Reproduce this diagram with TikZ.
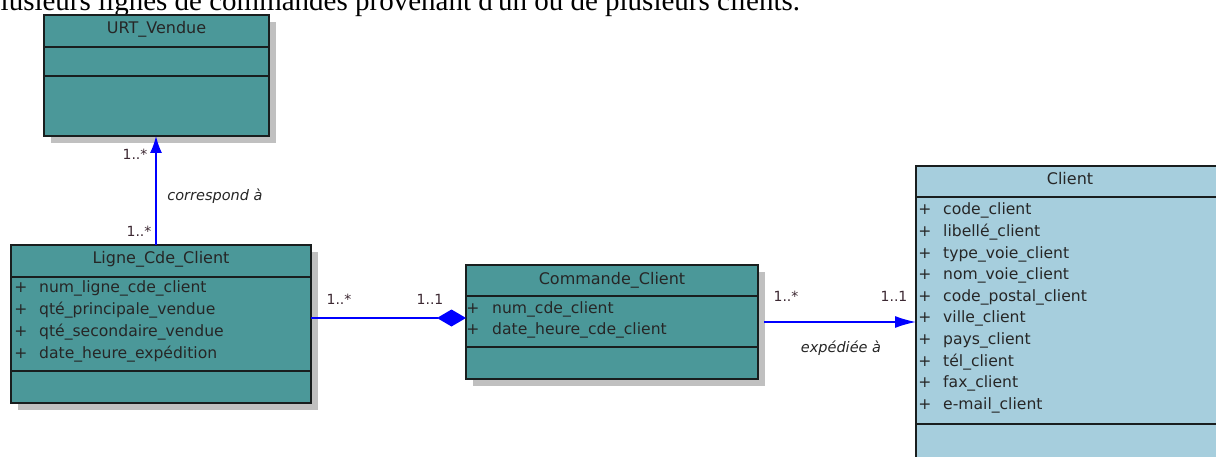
\documentclass[tikz,border=0pt]{standalone}
\usepackage{fontspec}
\setmainfont{DejaVu Sans}
\newfontfamily\timesf{Liberation Serif}
\usetikzlibrary{arrows.meta,calc,shadows}
\definecolor{teal1}{RGB}{75,152,153}
\definecolor{cli}{RGB}{166,206,221}
\definecolor{shad}{RGB}{192,192,192}
\definecolor{edge}{RGB}{25,30,30}
\definecolor{lnk}{RGB}{0,0,255}
\definecolor{mult}{RGB}{60,40,50}
\tikzset{
  box/.style={draw=edge, line width=1.4pt, anchor=north west, inner sep=0pt, outer sep=0pt,
    drop shadow={shadow xshift=7pt, shadow yshift=-7pt, fill=shad, opacity=1}},
  sep/.style={draw=edge, line width=1.4pt},
  ttl/.style={font=\fontsize{16}{18}\selectfont, text=black!85, inner sep=0pt},
  attr/.style={font=\fontsize{15.6}{18}\selectfont, anchor=mid west, inner sep=0pt, text=black!85},
  plus/.style={font=\fontsize{15.6}{18}\selectfont, anchor=mid, inner sep=0pt, text=black!85},
  mlt/.style={font=\fontsize{14}{16}\selectfont, inner sep=0pt, text=mult},
  role/.style={font=\fontsize{14.5}{16}\selectfont\itshape, inner sep=0pt, text=black!85},
  link/.style={draw=lnk, line width=1.5pt},
}
\begin{document}
\begin{tikzpicture}[x=1pt,y=-1pt]
\useasboundingbox (0,0) rectangle (1216,457);
\clip (0,0) rectangle (1216,457);

% intro text (cut at the top)
\node[font=\timesf\fontsize{29}{30}\selectfont, anchor=base west, inner sep=0pt] (intro) at (-14,11)
  {plusieurs lignes de commandes provenant d'un ou de plusieurs clients.};

% URT_Vendue
\node[box, fill=teal1, minimum width=225pt, minimum height=121pt] (urt) at (44,15) {};
\node[ttl] (urtT) at ($(urt.north)+(0,14)$) {URT\_Vendue};
\draw[sep] (urt.west |- 0,47) -- (urt.east |- 0,47);
\draw[sep] (urt.west |- 0,76) -- (urt.east |- 0,76);

% Ligne_Cde_Client
\node[box, fill=teal1, minimum width=300pt, minimum height=158pt] (lig) at (11,245) {};
\node[ttl] (ligT) at ($(lig.north)+(0,14)$) {Ligne\_Cde\_Client};
\draw[sep] (lig.west |- 0,277) -- (lig.east |- 0,277);
\draw[sep] (lig.west |- 0,371) -- (lig.east |- 0,371);
\foreach \y/\t [count=\i] in {290/num\_ligne\_cde\_client, 312/qté\_principale\_vendue,
    334/qté\_secondaire\_vendue, 356/date\_heure\_expédition}{
  \node[plus] (ligP\i) at (21,\y) {+};
  \node[attr] (ligA\i) at (39,\y) {\t};
}

% Commande_Client
\node[box, fill=teal1, minimum width=292pt, minimum height=114pt] (cmd) at (466,265) {};
\node[ttl] (cmdT) at ($(cmd.north)+(0,15)$) {Commande\_Client};
\draw[sep] (cmd.west |- 0,296) -- (cmd.east |- 0,296);
\draw[sep] (cmd.west |- 0,347) -- (cmd.east |- 0,347);
\foreach \y/\t [count=\i] in {311/num\_cde\_client, 332/date\_heure\_cde\_client}{
  \node[plus] (cmdP\i) at (473,\y) {+};
  \node[attr] (cmdA\i) at (492,\y) {\t};
}

% Client
\node[box, fill=cli, minimum width=310pt, minimum height=320pt] (cli) at (916,166) {};
\node[ttl] (cliT) at (1070,179) {Client};
\draw[sep] (cli.west |- 0,197) -- (cli.east |- 0,197);
\draw[sep] (cli.west |- 0,424) -- (cli.east |- 0,424);
\foreach \y/\t [count=\i] in {212/code\_client, 234/libellé\_client, 256/type\_voie\_client,
    277/nom\_voie\_client, 299/code\_postal\_client, 320/ville\_client, 342/pays\_client,
    364/tél\_client, 385/fax\_client, 407/e-mail\_client}{
  \node[plus] (cliP\i) at (925,\y) {+};
  \node[attr] (cliA\i) at (943,\y) {\t};
}

% links
\coordinate (ax) at (156,0);
\draw[link, -{Latex[length=17pt,width=12pt]}] (lig.north -| ax) -- (urt.south -| ax);
\coordinate (ly) at (0,318);
\draw[link, -{Diamond[length=29pt,width=17pt]}] (lig.east |- ly) -- (cmd.west |- ly);
\coordinate (cy) at (0,322);
\draw[link, -{Latex[length=21pt,width=12pt]}] ($(cmd.east |- cy)+(6,0)$) -- (cli.west |- cy);

% labels
\node[mlt] (m1) at (135,154) {1..*};
\node[role] (r1) at (215,196) {correspond à};
\node[mlt] (m2) at (139,231) {1..*};
\node[mlt] (m3) at (339,299) {1..*};
\node[mlt] (m4) at (430,299) {1..1};
\node[mlt] (m5) at (786,296) {1..*};
\node[mlt] (m6) at (894,296) {1..1};
\node[role] (r2) at (841,348) {expédiée à};
\end{tikzpicture}
\end{document}
